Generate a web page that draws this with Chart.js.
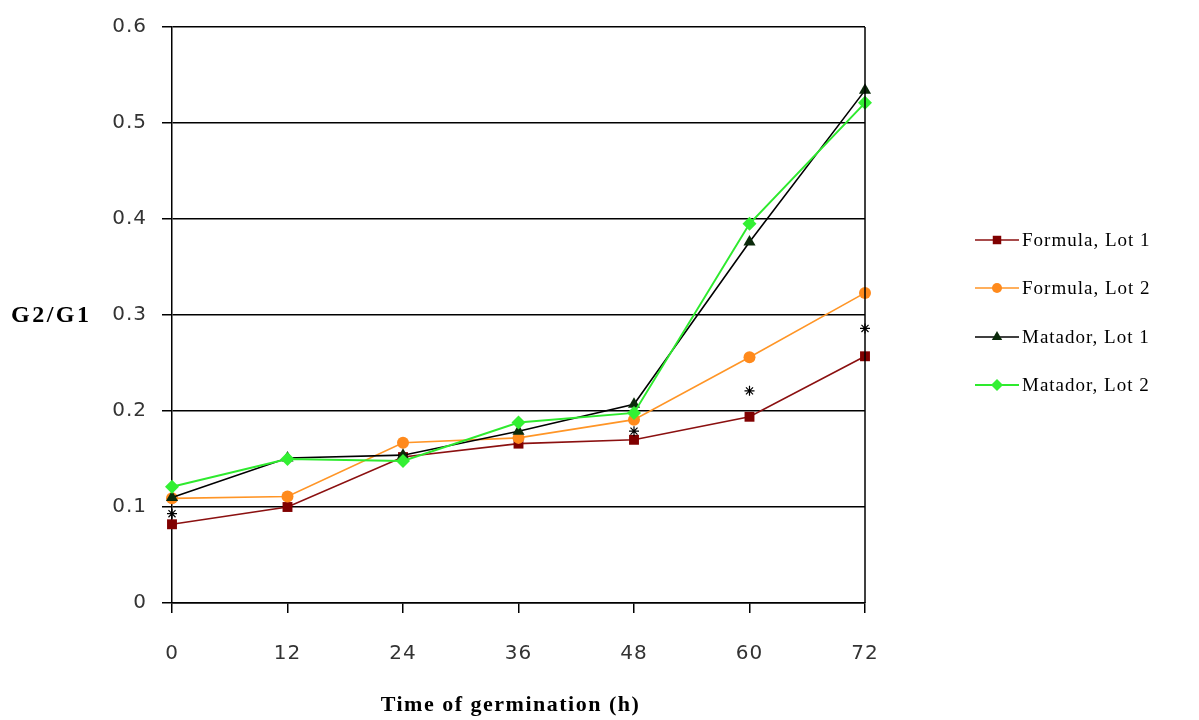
<!DOCTYPE html>
<html>
<head>
<meta charset="utf-8">
<script src="https://cdn.jsdelivr.net/npm/chart.js@4/dist/chart.umd.min.js"></script>
<style>
html,body{margin:0;padding:0;background:#fff;}
#wrap{position:relative;width:1199px;height:720px;}
</style>
</head>
<body>
<div id="wrap"><canvas id="c" width="1199" height="720"></canvas></div>
<script>
const categories = ['0','12','24','36','48','60','72'];
const formulaLot1 = [0.082, 0.100, 0.152, 0.166, 0.170, 0.194, 0.257];
const formulaLot2 = [0.109, 0.111, 0.167, 0.172, 0.191, 0.256, 0.323];
const matadorLot1 = [0.110, 0.151, 0.154, 0.179, 0.207, 0.376, 0.534];
const matadorLot2 = [0.121, 0.150, 0.148, 0.188, 0.198, 0.395, 0.521];
const asterisks   = [0.093, null, null, null, 0.179, 0.221, 0.286];
const yTicks = [0, 0.1, 0.2, 0.3, 0.4, 0.5, 0.6];
const seriesNames = ['Formula, Lot 1','Formula, Lot 2','Matador, Lot 1','Matador, Lot 2'];
const yTitle = 'G2/G1';
const xTitle = 'Time of germination (h)';

const styles = [
  {line:'#8B1010', fill:'#800000', point:'rect', r:7},
  {line:'#FF9526', fill:'#FF8A1C', point:'circle', r:6},
  {line:'#000000', fill:'#0B2A0B', point:'triangle', r:7},
  {line:'#2EEA2E', fill:'#33F033', point:'rectRot', r:7}
];
const seriesData = [formulaLot1, formulaLot2, matadorLot1, matadorLot2];

const datasets = seriesData.map((d,i)=>({
  label: seriesNames[i],
  data: d,
  borderColor: styles[i].line,
  backgroundColor: styles[i].fill,
  pointBackgroundColor: styles[i].fill,
  pointBorderColor: styles[i].fill,
  pointStyle: styles[i].point,
  pointRadius: styles[i].r,
  pointBorderWidth: 0,
  borderWidth: i===3 ? 2 : 1.6,
  tension: 0,
  order: 10 - i
}));
datasets.push({
  label: 'sig',
  data: asterisks,
  showLine: false,
  pointStyle: 'star',
  pointRadius: 5,
  pointBorderWidth: 1.2,
  pointBorderColor: '#000',
  pointBackgroundColor: '#000',
  borderColor: '#000',
  order: 0
});

const extras = {
  id: 'extras',
  beforeDraw(chart) {
    chart.ctx.letterSpacing = '1px';
  },
  afterDraw(chart) {
    const ctx = chart.ctx, a = chart.chartArea;
    ctx.save();
    // right border
    ctx.strokeStyle = '#000'; ctx.lineWidth = 1.5;
    ctx.beginPath(); ctx.moveTo(a.right, a.top); ctx.lineTo(a.right, a.bottom); ctx.stroke();
    // y title (horizontal)
    ctx.fillStyle = '#000';
    ctx.letterSpacing = '2.5px';
    ctx.font = 'bold 24px "Liberation Serif", "DejaVu Serif", serif';
    ctx.textAlign = 'left'; ctx.textBaseline = 'middle';
    ctx.fillText(yTitle, 11, chart.scales.y.getPixelForValue(0.3) + 1);
    // x title
    ctx.letterSpacing = '1.5px';
    ctx.font = 'bold 22px "Liberation Serif", "DejaVu Serif", serif';
    ctx.textAlign = 'center';
    ctx.fillText(xTitle, (a.left + a.right) / 2 - 8, 705);
    // legend
    const lx = 975, lw = 44, ys = [240, 288, 337, 385];
    ctx.letterSpacing = '1px';
    ctx.font = '19px "Liberation Serif", "DejaVu Serif", serif';
    for (let i = 0; i < 4; i++) {
      const y = ys[i];
      ctx.strokeStyle = styles[i].line; ctx.lineWidth = i===3 ? 2 : 1.6;
      ctx.beginPath(); ctx.moveTo(lx, y); ctx.lineTo(lx + lw, y); ctx.stroke();
      ctx.fillStyle = styles[i].fill;
      Chart.helpers.drawPoint(ctx, {pointStyle: styles[i].point, radius: styles[i].r - 1, rotation: 0, borderWidth: 0}, lx + lw/2, y);
      ctx.fillStyle = '#000';
      ctx.textAlign = 'left'; ctx.textBaseline = 'middle';
      ctx.fillText(seriesNames[i], lx + lw + 3, y + 1);
    }
    ctx.restore();
  }
};

new Chart(document.getElementById('c'), {
  type: 'line',
  data: { labels: categories, datasets },
  options: {
    responsive: false,
    animation: false,
    devicePixelRatio: 1,
    layout: { padding: { left: 0, top: 23, right: 334, bottom: 0 } },
    plugins: { legend: { display: false }, tooltip: { enabled: false } },
    scales: {
      x: {
        type: 'category',
        offset: false,
        grid: { display: true, drawOnChartArea: false, drawTicks: true, tickLength: 10, color: '#000', lineWidth: 1.5 },
        border: { display: true, color: '#000', width: 1.5 },
        ticks: { color: '#333', font: { family: '"DejaVu Sans", sans-serif', size: 20 }, padding: 29, maxRotation: 0 },
        title: { display: false },
        afterFit(s) { s.height = 117; }
      },
      y: {
        min: 0, max: 0.6,
        afterBuildTicks(s) { s.ticks = yTicks.map(v => ({ value: v })); },
        grid: { display: true, drawOnChartArea: true, drawTicks: true, tickLength: 10, color: '#000', lineWidth: 1.5 },
        border: { display: true, color: '#000', width: 1.5 },
        ticks: { color: '#333', font: { family: '"DejaVu Sans", sans-serif', size: 20 }, padding: 15,
          callback: v => String(v) },
        afterFit(s) { s.width = 172; }
      }
    }
  },
  plugins: [extras]
});
</script>
</body>
</html>
